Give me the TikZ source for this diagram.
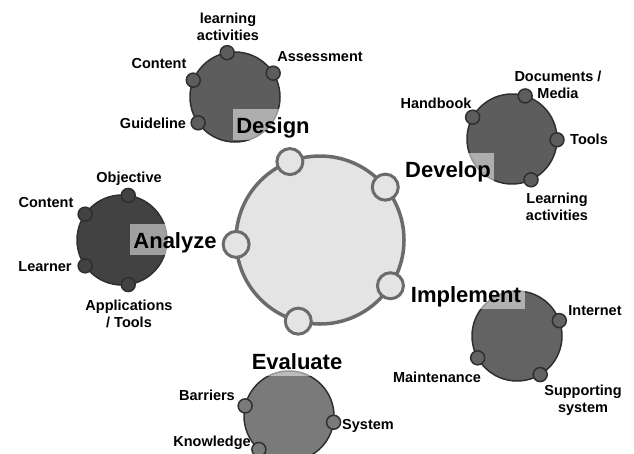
\documentclass[tikz,border=0pt]{standalone}
\usepackage{fontspec}
\setmainfont{Liberation Sans}

\definecolor{hubline}{HTML}{6B6B6B}
\definecolor{hubfill}{HTML}{E4E4E4}
\definecolor{rimline}{HTML}{2F2F2F}
\definecolor{analyzefill}{HTML}{424242}
\definecolor{designfill}{HTML}{5D5D5D}
\definecolor{developfill}{HTML}{5D5D5D}
\definecolor{implementfill}{HTML}{636363}
\definecolor{evaluatefill}{HTML}{7A7A7A}

\begin{document}
\begin{tikzpicture}[x=1pt,y=-1pt,
  hub/.style={circle,draw=hubline,fill=hubfill,line width=3.5pt,minimum size=168pt,inner sep=0pt,outer sep=0pt},
  port/.style={circle,draw=hubline,fill=hubfill,line width=3pt,minimum size=26pt,inner sep=0pt},
  phase/.style={circle,draw=rimline,fill=#1,line width=1.5pt,minimum size=90pt,inner sep=0pt,outer sep=0pt},
  dot/.style={circle,draw=rimline,fill=#1,line width=1.5pt,minimum size=14pt,inner sep=0pt},
  phaselabel/.style={font=\fontsize{22}{26}\selectfont\bfseries,fill=white,fill opacity=0.5,text opacity=1,
    anchor=base,text height=20pt,text depth=3pt,inner xsep=3.5pt,inner ysep=4pt},
  item/.style={font=\fontsize{14.5}{17}\selectfont\bfseries,align=center,inner sep=0pt}
]
\useasboundingbox (0,0) rectangle (634,453);

% central cycle with its five ports
\node[hub] (hub) at (320,240) {};
\node[port] (port-design)    at (hub.111) {};
\node[port] (port-develop)   at (hub.39)  {};
\node[port] (port-implement) at (hub.-33) {};
\node[port] (port-evaluate)  at (hub.-105) {};
\node[port] (port-analyze)   at (hub.183) {};

% phase circles
\node[phase=designfill]    (design)    at (235,97)  {};
\node[phase=developfill]   (develop)   at (512,139) {};
\node[phase=analyzefill]   (analyze)   at (122,240) {};
\node[phase=implementfill] (implement) at (517,336) {};
\node[phase=evaluatefill]  (evaluate)  at (289,416) {};

% Design items
\node[dot=designfill] (d-act)   at (design.100) {};
\node[dot=designfill] (d-ass)   at (design.32)  {};
\node[dot=designfill] (d-con)   at (design.158) {};
\node[dot=designfill] (d-guide) at (design.215) {};
\node[item] (t-d-act)   at (228,27)  {learning\\activities};
\node[item] (t-d-ass)   at (320,57)  {Assessment};
\node[item] (t-d-con)   at (159,64)  {Content};
\node[item] (t-d-guide) at (153,123) {Guideline};

% Develop items
\node[dot=developfill] (v-hand)  at (develop.151) {};
\node[dot=developfill] (v-doc)   at (develop.73)  {};
\node[dot=developfill] (v-tools) at (develop.-1)  {};
\node[dot=developfill] (v-act)   at (develop.-65) {};
\node[item] (t-v-hand)  at (436,103) {Handbook};
\node[item] (t-v-doc)   at (558,85)  {Documents /\\Media};
\node[item] (t-v-tools) at (589,139) {Tools};
\node[item] (t-v-act)   at (557,207) {Learning\\activities};

% Analyze items
\node[dot=analyzefill] (a-obj)   at (analyze.82)  {};
\node[dot=analyzefill] (a-con)   at (analyze.145) {};
\node[dot=analyzefill] (a-learn) at (analyze.215) {};
\node[dot=analyzefill] (a-app)   at (analyze.-82) {};
\node[item] (t-a-obj)   at (129,179) {Objective};
\node[item] (t-a-con)   at (46,203)  {Content};
\node[item] (t-a-learn) at (45,267)  {Learner};
\node[item] (t-a-app)   at (129,314) {Applications\\/ Tools};

% Implement items
\node[dot=implementfill] (i-net)  at (implement.20)  {};
\node[dot=implementfill] (i-main) at (implement.209) {};
\node[dot=implementfill] (i-sup)  at (implement.-59) {};
\node[item] (t-i-net)  at (595,311) {Internet};
\node[item] (t-i-main) at (437,377) {Maintenance};
\node[item] (t-i-sup)  at (583,400) {Supporting\\system};

% Evaluate items
\node[dot=evaluatefill] (e-bar)  at (evaluate.167) {};
\node[dot=evaluatefill] (e-sys)  at (evaluate.-8)  {};
\node[dot=evaluatefill] (e-know) at (evaluate.228) {};
\node[item] (t-e-bar)  at (207,395) {Barriers};
\node[item] (t-e-sys)  at (368,426) {System};
\node[item] (t-e-know) at (212,443) {Knowledge};

% phase titles
\node[phaselabel] (l-design)    at (273,133) {Design};
\node[phaselabel] (l-develop)   at (448,177) {Develop};
\node[phaselabel] (l-analyze)   at (175,248) {Analyze};
\node[phaselabel] (l-implement) at (466,302) {Implement};
\node[phaselabel] (l-evaluate)  at (297,369) {Evaluate};
\end{tikzpicture}
\end{document}
